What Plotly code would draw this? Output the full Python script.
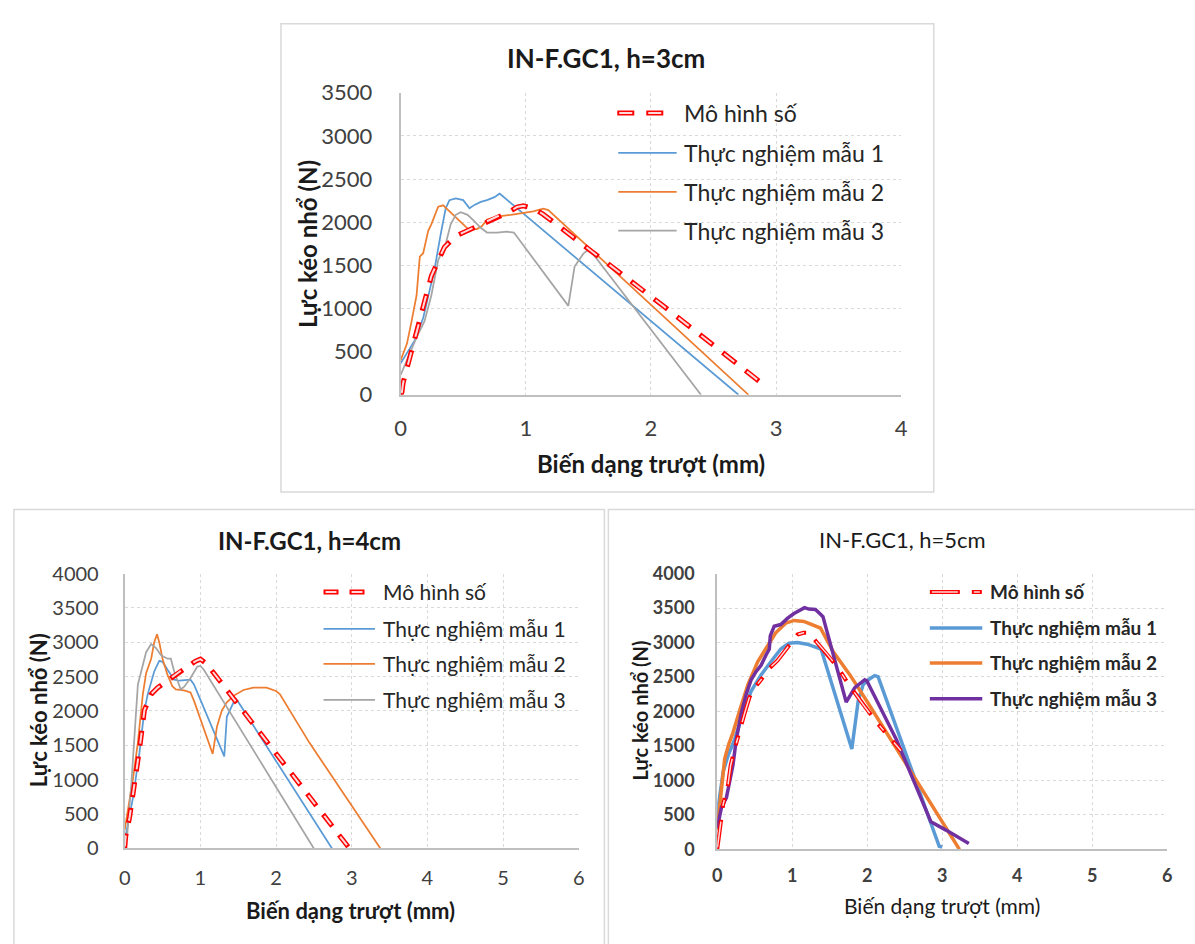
import plotly.graph_objects as go

W, H = 1195, 944

# ---------------- DATA ----------------
series_names = ["Mô hình số", "Thực nghiệm mẫu 1", "Thực nghiệm mẫu 2", "Thực nghiệm mẫu 3"]

# h = 3cm
h3_model_x = [0, 0.01, 0.02, 0.07, 0.13, 0.19, 0.245, 0.3, 0.35, 0.44, 0.5, 0.61, 0.69, 0.77, 0.85, 0.93, 0.98, 1.06, 1.14, 1.5, 2.09, 2.885]
h3_model_y = [0, 30, 140, 400, 740, 1075, 1375, 1560, 1710, 1840, 1880, 1955, 2010, 2065, 2105, 2175, 2190, 2160, 2090, 1690, 1040, 135]
h3_s1_x = [0, 0.06, 0.11, 0.18, 0.22, 0.27, 0.32, 0.36, 0.39, 0.44, 0.5, 0.55, 0.59, 0.64, 0.69, 0.75, 0.79, 0.8, 2.70]
h3_s1_y = [365, 515, 625, 890, 1150, 1450, 1860, 2160, 2255, 2275, 2255, 2160, 2200, 2235, 2255, 2290, 2330, 2320, 0]
h3_s2_x = [0, 0.05, 0.087, 0.127, 0.153, 0.18, 0.22, 0.245, 0.3, 0.34, 0.38, 0.46, 0.54, 0.61, 0.65, 0.69, 0.77, 0.88, 0.98, 1.06, 1.14, 1.18, 2.78]
h3_s2_y = [400, 590, 850, 1150, 1600, 1640, 1900, 1975, 2180, 2195, 2140, 2030, 1920, 1920, 1955, 2030, 2065, 2085, 2105, 2125, 2155, 2140, 0]
h3_s3_x = [0, 0.06, 0.127, 0.19, 0.245, 0.3, 0.36, 0.4, 0.44, 0.48, 0.535, 0.59, 0.64, 0.69, 0.77, 0.85, 0.905, 1.34, 1.375, 1.39, 1.46, 1.5, 1.525, 2.40]
h3_s3_y = [230, 440, 665, 850, 1150, 1560, 1750, 1975, 2085, 2115, 2085, 2010, 1935, 1880, 1880, 1890, 1880, 1030, 1340, 1485, 1635, 1680, 1655, 0]

# h = 4cm
h4_model_x = [0, 0.013, 0.065, 0.13, 0.196, 0.26, 0.35, 0.436, 0.61, 0.784, 0.937, 1.0, 1.08, 2.97]
h4_model_y = [0, 175, 455, 925, 1445, 2010, 2245, 2340, 2480, 2620, 2725, 2755, 2690, 0]
h4_s1_x = [0.01, 0.065, 0.11, 0.196, 0.26, 0.305, 0.39, 0.457, 0.5, 0.566, 0.654, 0.72, 0.87, 0.915, 1.316, 1.35, 1.416, 1.46, 1.49, 2.74]
h4_s1_y = [170, 505, 740, 1400, 2010, 2245, 2575, 2730, 2715, 2600, 2455, 2440, 2455, 2385, 1340, 1915, 2080, 2175, 2150, 0]
h4_s2_x = [0, 0.044, 0.11, 0.174, 0.24, 0.283, 0.35, 0.39, 0.427, 0.457, 0.5, 0.566, 0.63, 0.675, 0.784, 0.87, 0.915, 1.163, 1.22, 1.285, 1.35, 1.438, 1.57, 1.7, 1.874, 2.0, 2.05, 2.44, 3.38]
h4_s2_y = [270, 550, 1020, 1540, 2245, 2550, 2760, 3000, 3115, 3000, 2760, 2525, 2360, 2315, 2300, 2270, 2150, 1375, 1775, 2010, 2125, 2220, 2305, 2340, 2340, 2290, 2245, 1540, 0]
h4_s3_x = [0, 0.035, 0.087, 0.13, 0.174, 0.218, 0.283, 0.35, 0.414, 0.48, 0.566, 0.61, 0.654, 0.74, 0.784, 0.87, 0.96, 1.0, 1.046, 2.5]
h4_s3_y = [0, 220, 925, 1585, 2385, 2575, 2855, 2975, 2915, 2810, 2760, 2760, 2575, 2315, 2350, 2480, 2645, 2655, 2600, 0]

# h = 5cm
h5_model_x = [0, 0.022, 0.048, 0.08, 0.145, 0.18, 0.233, 0.3, 0.365, 0.43, 0.5, 0.585, 0.695, 0.805, 0.936, 1.07, 1.15, 1.23, 1.33, 1.464, 1.6, 1.77, 1.97, 2.12, 2.45]
h5_model_y = [0, 190, 375, 655, 940, 1220, 1455, 1735, 1970, 2205, 2345, 2460, 2625, 2740, 2930, 3115, 3140, 3140, 3000, 2835, 2650, 2365, 2065, 1850, 1430]
h5_s1_x = [0.0, 0.013, 0.08, 0.145, 0.233, 0.343, 0.453, 0.585, 0.716, 0.848, 0.958, 1.068, 1.2, 1.288, 1.385, 1.795, 1.88, 1.947, 2.035, 2.1, 2.145, 2.96, 3.0]
h5_s1_y = [450, 610, 1125, 1360, 1595, 1970, 2295, 2530, 2720, 2905, 2990, 3000, 2975, 2945, 2905, 1455, 2155, 2390, 2475, 2520, 2505, 45, 35]
h5_s2_x = [0, 0.035, 0.066, 0.1, 0.154, 0.21, 0.3, 0.41, 0.54, 0.65, 0.78, 0.914, 1.024, 1.156, 1.266, 1.376, 1.55, 1.77, 1.99, 2.21, 2.475, 2.83, 3.23]
h5_s2_y = [280, 655, 985, 1315, 1525, 1690, 2015, 2390, 2720, 2905, 3140, 3280, 3320, 3305, 3260, 3210, 2860, 2530, 2160, 1780, 1310, 705, 0]
h5_s3_x = [0, 0.057, 0.123, 0.167, 0.21, 0.255, 0.32, 0.387, 0.453, 0.52, 0.585, 0.65, 0.695, 0.708, 0.76, 0.848, 0.936, 1.024, 1.112, 1.165, 1.222, 1.31, 1.367, 1.41, 1.72, 1.835, 1.967, 1.995, 2.39, 2.85, 3.05, 3.355]
h5_s3_y = [305, 610, 750, 985, 1220, 1595, 1970, 2250, 2460, 2580, 2670, 2815, 2905, 3095, 3235, 3260, 3350, 3420, 3480, 3505, 3485, 3480, 3420, 3375, 2135, 2345, 2460, 2445, 1590, 400, 280, 85]

titles = ["IN-F.GC1, h=3cm", "IN-F.GC1, h=4cm", "IN-F.GC1, h=5cm"]
x_title = "Biến dạng trượt (mm)"
y_title = "Lực kéo nhổ (N)"
x_ticks_3 = [0, 1, 2, 3, 4]
y_ticks_3 = [0, 500, 1000, 1500, 2000, 2500, 3000, 3500]
x_ticks_45 = [0, 1, 2, 3, 4, 5, 6]
y_ticks_45 = [0, 500, 1000, 1500, 2000, 2500, 3000, 3500, 4000]

# ---------------- STYLE / LAYOUT ----------------
FONT = "Lato, 'Noto Sans', 'DejaVu Sans', sans-serif"
RED = "#FF0000"
RED_IN = "#FFD9D9"
BLUE = "#5B9BD5"
ORANGE = "#ED7D31"
GRAY = "#A5A5A5"
PURPLE = "#7030A0"


def X(p):
    return p / W


def Y(p):
    return 1 - p / H


panels = [
    dict(data=[(h3_model_x, h3_model_y), (h3_s1_x, h3_s1_y), (h3_s2_x, h3_s2_y), (h3_s3_x, h3_s3_y)],
         colors=[RED, BLUE, ORANGE, GRAY], xt=x_ticks_3, yt=y_ticks_3,
         plot=(399, 905, 81, 392), box=(278, 10, 938, 492),
         title=(607, 45, 26, "bold"), xtitle=(652, 463, 24, "bold"), ytitle=(305, 237, 24, "bold"),
         tickfont=(22, "normal"), ystand=22, xstand=13,
         lw=1.75, red_w=(5, 2), dash=("17px,12px", "0px,2px,13px,14px"),
         leg_line=(619, 678), leg_red=(618, 665), leg_text=683, leg_rows=[102, 143, 183, 223],
         leg_font=(23, "normal")),
    dict(data=[(h4_model_x, h4_model_y), (h4_s1_x, h4_s1_y), (h4_s2_x, h4_s2_y), (h4_s3_x, h4_s3_y)],
         colors=[RED, BLUE, ORANGE, GRAY], xt=x_ticks_45, yt=y_ticks_45,
         plot=(120, 579, 576, 859), box=(8, 510, 605, 960),
         title=(307, 542, 24, "bold"), xtitle=(348, 923, 22, "bold"), ytitle=(33, 717, 22, "bold"),
         tickfont=(20, "normal"), ystand=20, xstand=11,
         lw=1.75, red_w=(5, 2), dash=("15px,11px", "0px,2px,11px,13px"),
         leg_line=(321, 373), leg_red=(321, 363), leg_text=379, leg_rows=[595, 633, 669, 706],
         leg_font=(21, "normal")),
    dict(data=[(h5_model_x, h5_model_y), (h5_s1_x, h5_s1_y), (h5_s2_x, h5_s2_y), (h5_s3_x, h5_s3_y)],
         colors=[RED, BLUE, ORANGE, PURPLE], xt=x_ticks_45, yt=y_ticks_45,
         plot=(719, 1174, 576, 860), box=(609, 510, 1210, 960),
         title=(906, 541, 22, "normal"), xtitle=(946, 918, 21, "normal"), ytitle=(641, 717, 20, "bold"),
         tickfont=(18, "bold"), ystand=17, xstand=9,
         lw=3.5, red_w=(4, 1.5), dash=("30px,12px,10px,12px", "0px,2px,26px,16px,6px,14px"),
         leg_line=(934, 987), leg_red=(934, 987), leg_text=993, leg_rows=[595, 632, 668, 705],
         leg_font=(19, "bold")),
]

fig = go.Figure()
shapes = []
annotations = []

for i, p in enumerate(panels):
    sfx = "" if i == 0 else str(i + 1)
    xa, ya = "x" + sfx, "y" + sfx
    # experimental series first, then model on top
    for k in [1, 2, 3]:
        xs, ys = p["data"][k]
        fig.add_trace(go.Scatter(x=xs, y=ys, mode="lines", name=series_names[k],
                                 line=dict(color=p["colors"][k], width=p["lw"]),
                                 xaxis=xa, yaxis=ya, showlegend=False))
    xs, ys = p["data"][0]
    fig.add_trace(go.Scatter(x=xs, y=ys, mode="lines", name=series_names[0],
                             line=dict(color=RED, width=p["red_w"][0], dash=p["dash"][0]),
                             xaxis=xa, yaxis=ya, showlegend=False))
    fig.add_trace(go.Scatter(x=xs, y=ys, mode="lines", name=series_names[0],
                             line=dict(color=RED_IN, width=p["red_w"][1], dash=p["dash"][1]),
                             xaxis=xa, yaxis=ya, showlegend=False, hoverinfo="skip"))

    x0, x1, y0, y1 = p["plot"]
    axis_common = dict(showgrid=True, gridcolor="#D9D9D9", gridwidth=1, griddash="dot",
                       showline=True, linecolor="#BFBFBF", linewidth=2, zeroline=False,
                       ticks="", fixedrange=True,
                       tickfont=dict(family=FONT, size=p["tickfont"][0], color="#404040",
                                     weight=p["tickfont"][1]))
    fig.layout["xaxis" + sfx] = dict(axis_common, domain=[X(x0), X(x1)], anchor=ya,
                                     range=[0, max(p["xt"])], tickvals=p["xt"],
                                     ticklabelstandoff=p["xstand"])
    fig.layout["yaxis" + sfx] = dict(axis_common, domain=[Y(y1), Y(y0)], anchor=xa,
                                     range=[0, max(p["yt"])], tickvals=p["yt"],
                                     ticklabelstandoff=p["ystand"])

    bx0, by0, bx1, by1 = p["box"]
    shapes.append(dict(type="rect", xref="paper", yref="paper", x0=X(bx0), x1=X(bx1),
                       y0=Y(by1), y1=Y(by0), line=dict(color="#D9D9D9", width=1.5),
                       fillcolor="rgba(0,0,0,0)", layer="below"))

    tx, ty, ts, tw = p["title"]
    annotations.append(dict(text=titles[i], x=X(tx), y=Y(ty), xref="paper", yref="paper",
                            showarrow=False, xanchor="center", yanchor="middle",
                            font=dict(family=FONT, size=ts, color="#1A1A1A", weight=tw)))
    tx, ty, ts, tw = p["xtitle"]
    annotations.append(dict(text=x_title, x=X(tx), y=Y(ty), xref="paper", yref="paper",
                            showarrow=False, xanchor="center", yanchor="middle",
                            font=dict(family=FONT, size=ts, color="#1A1A1A", weight=tw)))
    tx, ty, ts, tw = p["ytitle"]
    annotations.append(dict(text=y_title, x=X(tx), y=Y(ty), xref="paper", yref="paper",
                            showarrow=False, xanchor="center", yanchor="middle", textangle=-90,
                            font=dict(family=FONT, size=ts, color="#1A1A1A", weight=tw)))

    # legend (drawn manually)
    lx0, lx1 = p["leg_line"]
    rx0, rx1 = p["leg_red"]
    for k, ry in enumerate(p["leg_rows"]):
        if k == 0:
            shapes.append(dict(type="line", xref="paper", yref="paper", x0=X(rx0), x1=X(rx1),
                               y0=Y(ry), y1=Y(ry),
                               line=dict(color=RED, width=p["red_w"][0], dash=p["dash"][0])))
            shapes.append(dict(type="line", xref="paper", yref="paper", x0=X(rx0), x1=X(rx1),
                               y0=Y(ry), y1=Y(ry),
                               line=dict(color=RED_IN, width=p["red_w"][1], dash=p["dash"][1])))
        else:
            shapes.append(dict(type="line", xref="paper", yref="paper", x0=X(lx0), x1=X(lx1),
                               y0=Y(ry), y1=Y(ry),
                               line=dict(color=p["colors"][k], width=p["lw"])))
        annotations.append(dict(text=series_names[k], x=X(p["leg_text"]), y=Y(ry),
                                xref="paper", yref="paper", showarrow=False,
                                xanchor="left", yanchor="middle",
                                font=dict(family=FONT, size=p["leg_font"][0], color="#262626",
                                          weight=p["leg_font"][1])))

fig.update_layout(width=W, height=H, margin=dict(l=0, r=0, t=0, b=0),
                  paper_bgcolor="white", plot_bgcolor="white",
                  shapes=shapes, annotations=annotations, showlegend=False,
                  font=dict(family=FONT))

fig.write_html("out.html", config={"displayModeBar": False},
               post_script="document.body.style.margin='0';document.body.style.overflow='hidden';")
